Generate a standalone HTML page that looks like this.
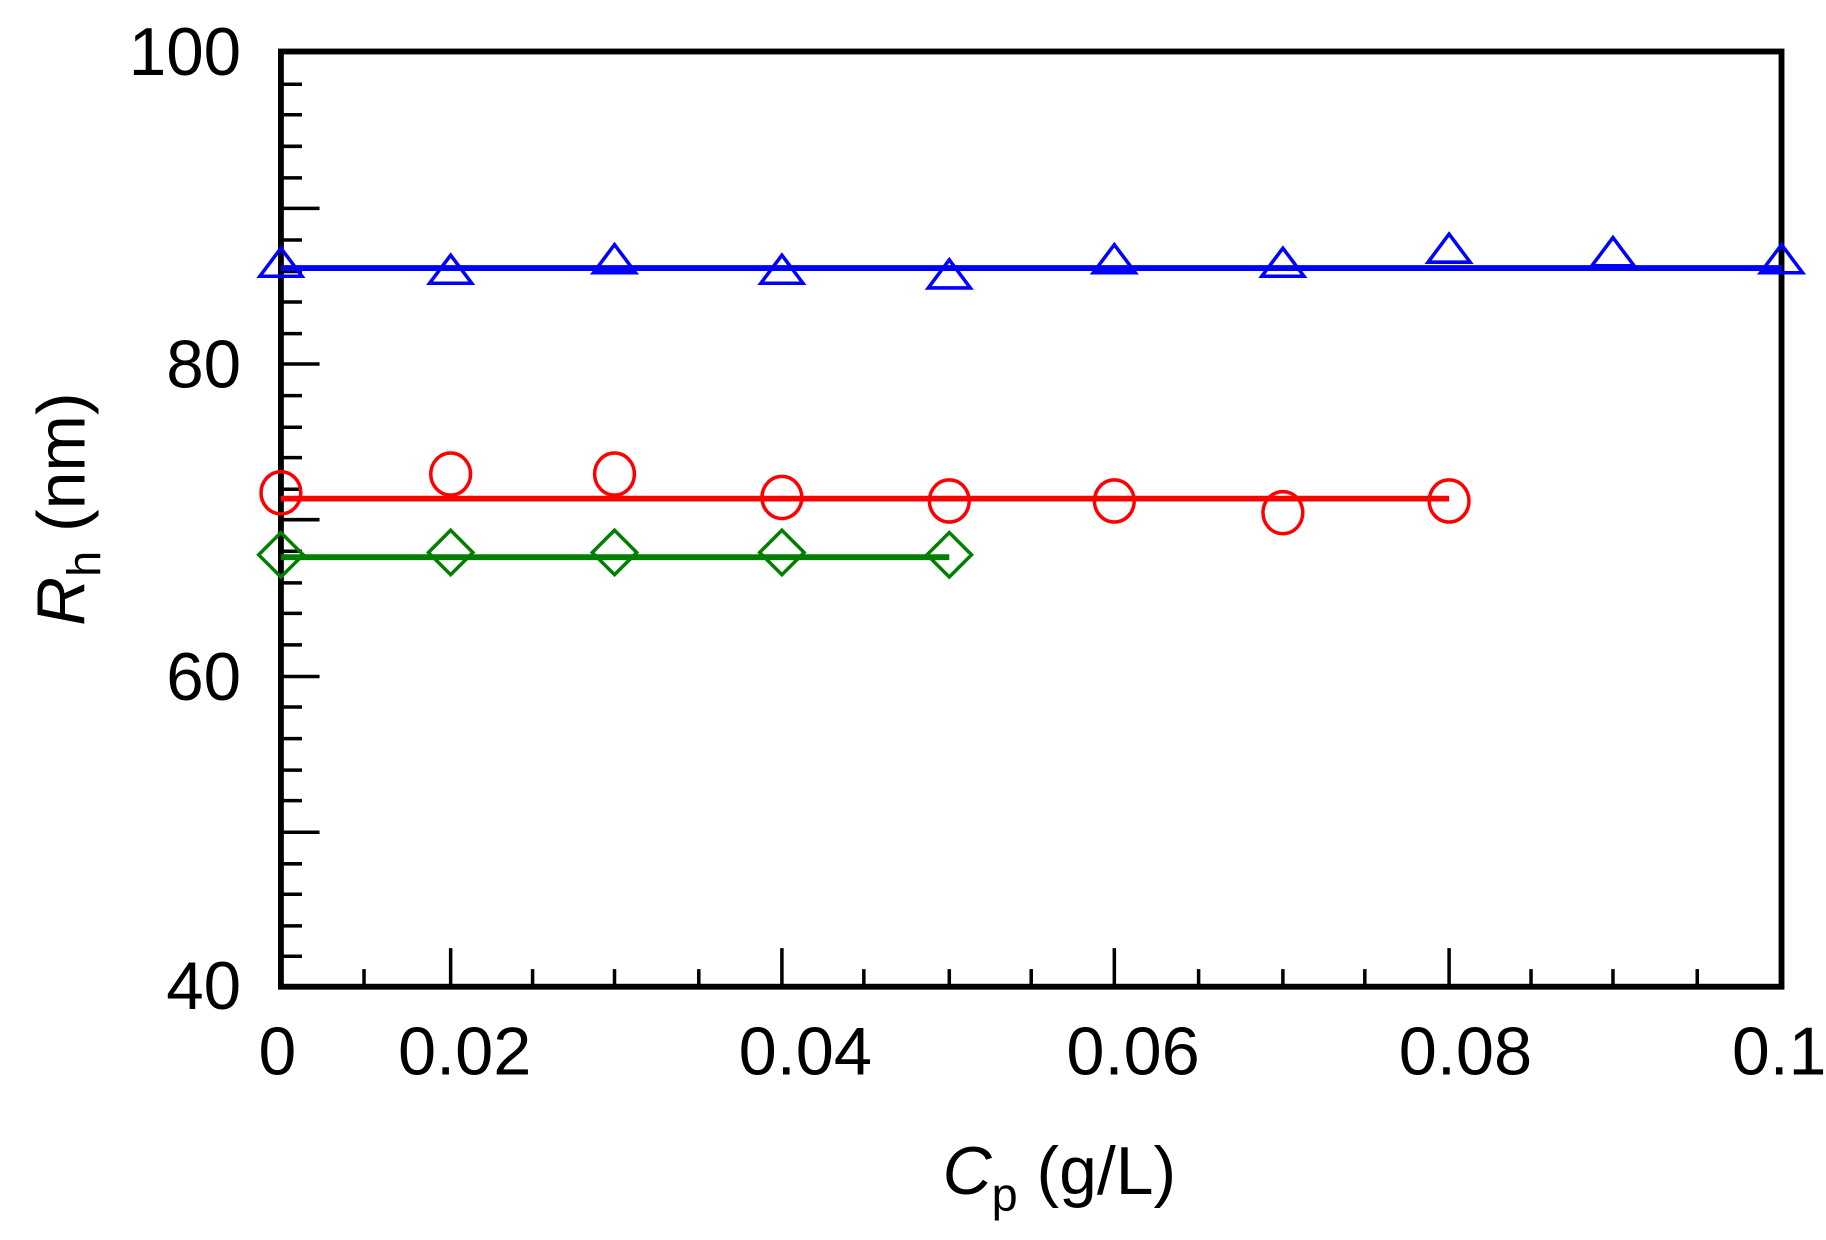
<!DOCTYPE html>
<html><head><style>html,body{margin:0;padding:0;background:#fff}svg{display:block}</style></head>
<body>
<svg width="1826" height="1240" viewBox="0 0 1560 1059.4" preserveAspectRatio="none" xmlns="http://www.w3.org/2000/svg" font-family="Liberation Sans, Arial, sans-serif">
<rect width="1560" height="1060" fill="#fff"/>
<g stroke="#000" stroke-width="3">
<path d="M240 72h18M240 98h18M240 125h18M240 152h18M240 178h33M240 205h18M240 232h18M240 258h18M240 285h18M240 311h33
M240 338h18M240 365h18M240 391h18M240 418h18M240 444h33M240 471h18M240 498h18M240 524h18M240 551h18M240 578h33
M240 604h18M240 631h18M240 658h18M240 684h18M240 711h33M240 738h18M240 764h18M240 791h18M240 817h18"/>
<path d="M311 843v-15M385 843v-33M455 843v-15M525 843v-15M597 843v-15M668 843v-33M738 843v-15M811 843v-15M881 843v-15M952 843v-33M1024 843v-15M1096 843v-15M1166 843v-15M1238 843v-33M1308 843v-15M1378 843v-15M1450 843v-15"/>
</g>
<rect x="240" y="44" width="1282" height="799" fill="none" stroke="#000" stroke-width="5"/>
<g font-size="58" fill="#000">
<text x="206" y="64" text-anchor="end" textLength="96" lengthAdjust="spacingAndGlyphs">100</text>
<text x="206" y="331" text-anchor="end" textLength="64" lengthAdjust="spacingAndGlyphs">80</text>
<text x="206" y="598" text-anchor="end" textLength="64" lengthAdjust="spacingAndGlyphs">60</text>
<text x="206" y="862" text-anchor="end" textLength="64" lengthAdjust="spacingAndGlyphs">40</text>
<text x="237" y="918" text-anchor="middle">0</text>
<text x="397" y="918" text-anchor="middle" textLength="114" lengthAdjust="spacingAndGlyphs">0.02</text>
<text x="688" y="918" text-anchor="middle" textLength="114" lengthAdjust="spacingAndGlyphs">0.04</text>
<text x="968" y="918" text-anchor="middle" textLength="114" lengthAdjust="spacingAndGlyphs">0.06</text>
<text x="1252" y="918" text-anchor="middle" textLength="114" lengthAdjust="spacingAndGlyphs">0.08</text>
<text x="1520" y="918" text-anchor="middle">0.1</text>
<text x="905" y="1020" text-anchor="middle"><tspan font-style="italic">C</tspan><tspan font-size="40" dy="14">p</tspan><tspan dy="-14"> (g/L)</tspan></text>
<text transform="translate(72,435) rotate(-90)" text-anchor="middle"><tspan font-style="italic">R</tspan><tspan font-size="40" dy="14">h</tspan><tspan dy="-14"> (nm)</tspan></text>
</g>
<line x1="240" y1="229" x2="1522" y2="229" stroke="#0000ff" stroke-width="5"/>
<line x1="240" y1="426" x2="1238" y2="426" stroke="#ff0000" stroke-width="5"/>
<line x1="240" y1="476" x2="811" y2="476" stroke="#008000" stroke-width="5"/>
<g fill="none" stroke="#0000ff" stroke-width="3">
<path d="M240 212l-18 24h36z"/><path d="M385 218l-18 24h36z"/><path d="M525 209l-18 24h36z"/><path d="M668 218l-18 24h36z"/><path d="M811 222l-18 24h36z"/><path d="M952 209l-18 24h36z"/><path d="M1096 212l-18 24h36z"/><path d="M1238 200l-18 24h36z"/><path d="M1378 203l-18 24h36z"/><path d="M1522 209l-18 24h36z"/>
</g>
<g fill="none" stroke="#ff0000" stroke-width="3">
<ellipse cx="240" cy="421" rx="17" ry="18"/><ellipse cx="385" cy="405" rx="17" ry="18"/><ellipse cx="525" cy="405" rx="17" ry="18"/><ellipse cx="668" cy="425" rx="17" ry="18"/><ellipse cx="811" cy="428" rx="17" ry="18"/><ellipse cx="952" cy="428" rx="17" ry="18"/><ellipse cx="1096" cy="438" rx="17" ry="18"/><ellipse cx="1238" cy="428" rx="17" ry="18"/>
</g>
<g fill="none" stroke="#008000" stroke-width="3">
<path d="M240 455l19 19l-19 19l-19-19z"/><path d="M385 453l19 19l-19 19l-19-19z"/><path d="M525 453l19 19l-19 19l-19-19z"/><path d="M668 453l19 19l-19 19l-19-19z"/><path d="M811 455l19 19l-19 19l-19-19z"/>
</g>
</svg>
</body></html>
